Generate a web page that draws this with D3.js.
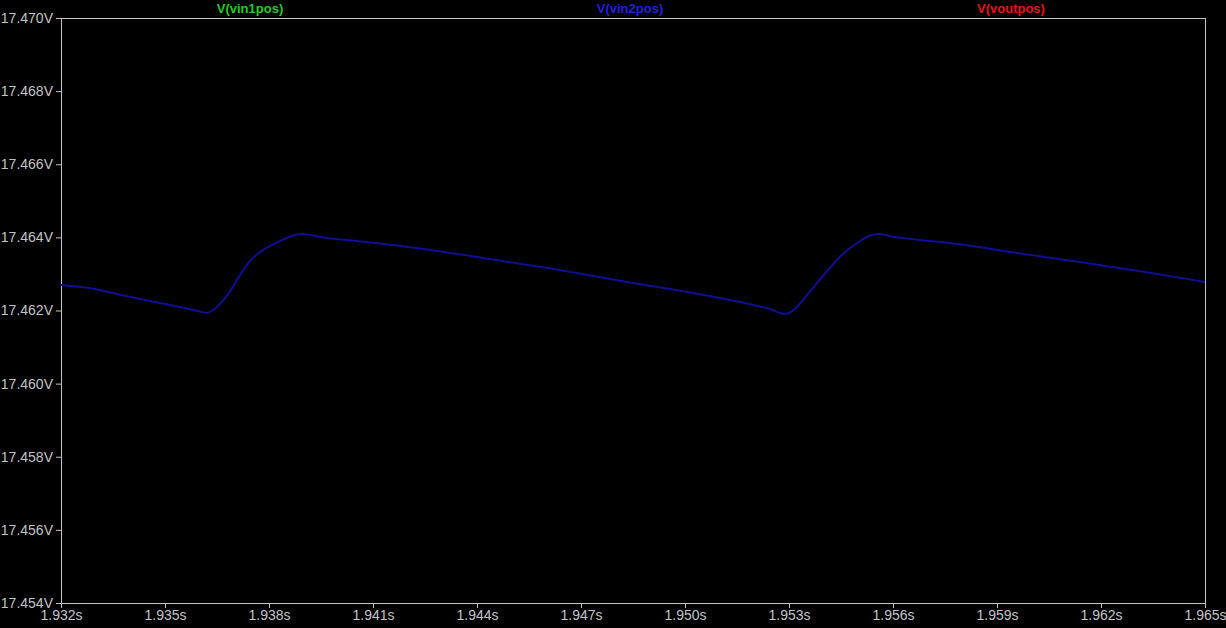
<!DOCTYPE html>
<html>
<head>
<meta charset="utf-8">
<script src="https://cdn.jsdelivr.net/npm/d3@7"></script>
<style>
  html, body { margin: 0; padding: 0; background: #000; }
  svg { display: block; }
  text { font-family: "Liberation Sans", Arial, sans-serif; }
</style>
</head>
<body>
<svg id="chart" width="1226" height="628"></svg>
<script>
// ---- data ----
const xTicks = [1.932, 1.935, 1.938, 1.941, 1.944, 1.947, 1.950, 1.953, 1.956, 1.959, 1.962, 1.965];
const yTicks = [17.454, 17.456, 17.458, 17.460, 17.462, 17.464, 17.466, 17.468, 17.470];
const traceNames = ["V(vin1pos)", "V(vin2pos)", "V(voutpos)"];
const traceColors = ["#22cc22", "#2020dd", "#ee1010"];
const timeS = [1.93200, 1.93278, 1.93376, 1.93471, 1.93566, 1.93601, 1.93621, 1.93640, 1.93664, 1.93687,
               1.93711, 1.93745, 1.93783, 1.93832, 1.93869, 1.93889, 1.93927, 1.93967, 1.94025, 1.94120,
               1.94285, 1.94475, 1.94639, 1.94833, 1.95023, 1.95159, 1.95245, 1.95278, 1.95300, 1.95320, 1.95361,
               1.95410, 1.95456, 1.95505, 1.95534, 1.95563, 1.95600, 1.95649, 1.95698, 1.95793, 1.95958,
               1.96148, 1.96341, 1.96500];
const vin2pos = [17.46270, 17.46262, 17.46242, 17.46223, 17.46205, 17.46197, 17.46194, 17.46202, 17.46224, 17.46251,
                 17.46289, 17.46335, 17.46366, 17.46390, 17.46405, 17.46409, 17.46405, 17.46398, 17.46393, 17.46383,
                 17.46363, 17.46335, 17.46311, 17.46278, 17.46248, 17.46223, 17.46204, 17.46192, 17.46193, 17.46207, 17.46253,
                 17.46308, 17.46355, 17.46390, 17.46405, 17.46409, 17.46402, 17.46396, 17.46391, 17.46381, 17.46357,
                 17.46331, 17.46303, 17.46278];

// ---- layout ----
const W = 1226, H = 628;
const mLeft = 61, mRight = 1205, mTop = 18, mBottom = 603;
const axisColor = "#c4c4c4";

const svg = d3.select("#chart");
svg.append("rect").attr("width", W).attr("height", H).attr("fill", "#000");

const x = d3.scaleLinear().domain([xTicks[0], xTicks[xTicks.length - 1]]).range([mLeft, mRight]);
const y = d3.scaleLinear().domain([yTicks[0], yTicks[yTicks.length - 1]]).range([mBottom, mTop]);

// frame
svg.append("rect")
  .attr("x", mLeft + 0.5).attr("y", mTop + 0.5)
  .attr("width", mRight - mLeft).attr("height", mBottom - mTop)
  .attr("fill", "none").attr("stroke", axisColor).attr("stroke-width", 1);

// y axis
const yAxis = svg.append("g").attr("transform", `translate(${mLeft},0)`)
  .call(d3.axisLeft(y).tickValues(yTicks).tickSize(5).tickPadding(3)
        .tickFormat(d => d3.format(".3f")(d) + "V"));
yAxis.select(".domain").remove();
yAxis.selectAll("line").attr("stroke", axisColor);
yAxis.selectAll("text").attr("fill", axisColor).attr("font-size", 14)
  .attr("font-family", "'Liberation Sans', Arial, sans-serif");

// x axis
const xAxis = svg.append("g").attr("transform", `translate(0,${mBottom})`)
  .call(d3.axisBottom(x).tickValues(xTicks).tickSize(5).tickPadding(2)
        .tickFormat(d => d3.format(".3f")(d) + "s"));
xAxis.select(".domain").remove();
xAxis.selectAll("line").attr("stroke", axisColor);
xAxis.selectAll("text").attr("fill", axisColor).attr("font-size", 14)
  .attr("font-family", "'Liberation Sans', Arial, sans-serif");

// trace titles
const titleX = [250, 630, 1011];
svg.selectAll("text.title").data(traceNames).join("text")
  .attr("class", "title")
  .attr("x", (d, i) => titleX[i]).attr("y", 13)
  .attr("text-anchor", "middle")
  .attr("font-size", 13).attr("font-weight", "bold")
  .attr("fill", (d, i) => traceColors[i])
  .text(d => d);

// trace
const pts = timeS.map((t, i) => [t, vin2pos[i]]);
const line = d3.line().x(d => x(d[0])).y(d => y(d[1])).curve(d3.curveCatmullRom.alpha(0.5));
svg.append("path").datum(pts)
  .attr("d", line)
  .attr("fill", "none")
  .attr("stroke", "#0e0e96")
  .attr("stroke-width", 2);
</script>
</body>
</html>
